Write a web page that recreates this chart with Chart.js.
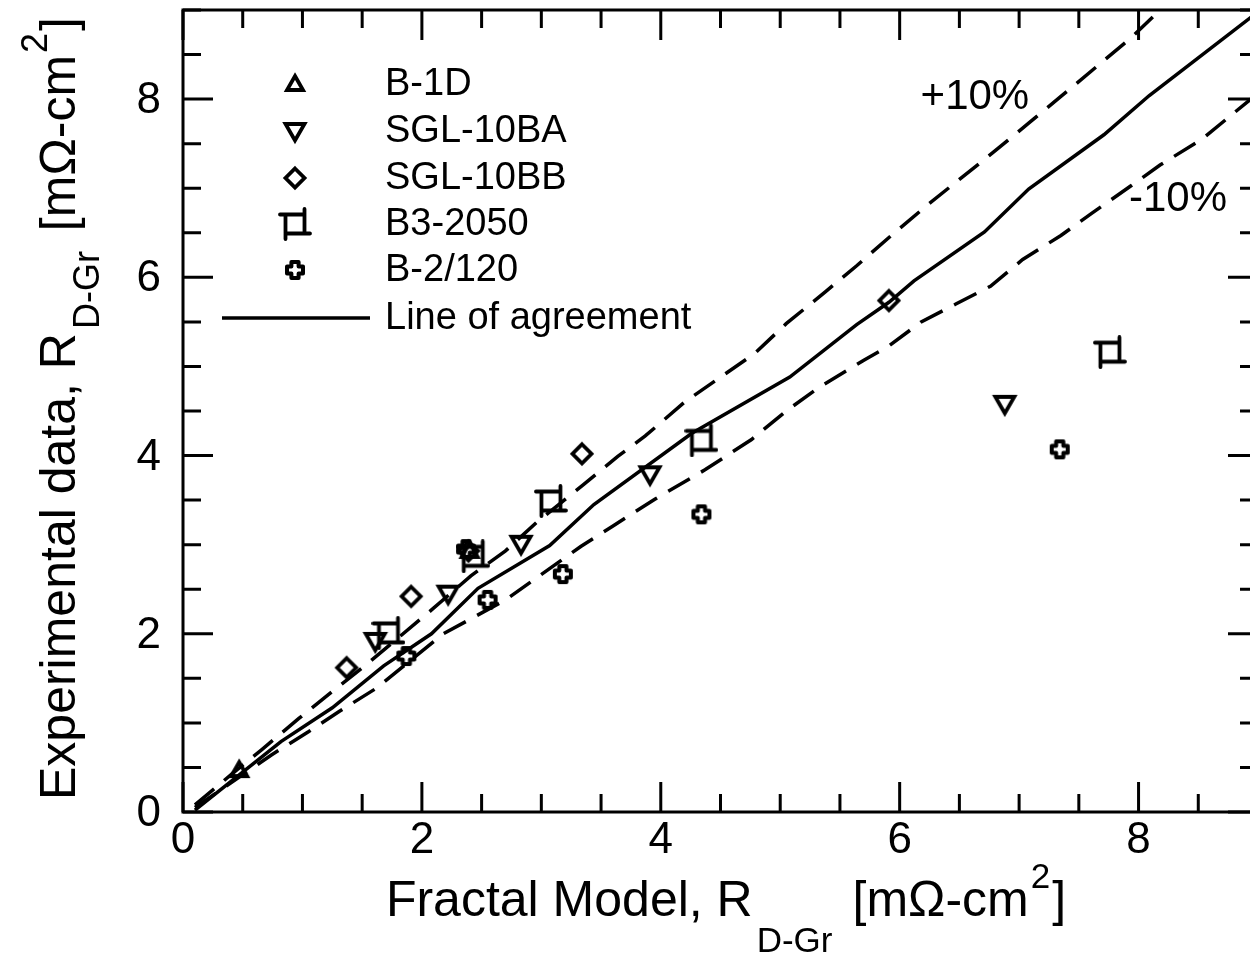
<!DOCTYPE html>
<html>
<head>
<meta charset="utf-8">
<script src="https://cdn.jsdelivr.net/npm/chart.js@4/dist/chart.umd.min.js"></script>
<style>
  html, body { margin: 0; padding: 0; background: #fff; overflow: hidden; }
  #wrap { position: relative; width: 1260px; height: 955px; }
</style>
</head>
<body>
<div id="wrap"><canvas id="chart" width="1260" height="955"></canvas></div>
<script>
// ---- data ----
const xMajorLabels = [0, 2, 4, 6, 8];
const yMajorLabels = [0, 2, 4, 6, 8];

const b1dX  = [0.47, 2.40];
const b1dY  = [0.47, 2.93];
const sglaX = [1.61, 2.22, 2.83, 3.91, 6.88];
const sglaY = [1.92, 2.45, 3.01, 3.79, 4.58];
const sglbX = [1.37, 1.91, 2.39, 3.34, 5.91];
const sglbY = [1.62, 2.42, 2.93, 4.02, 5.74];
const b3X   = [1.72, 2.43, 3.08, 4.34, 7.76];
const b3Y   = [2.01, 2.87, 3.49, 4.17, 5.16];
const b2X   = [1.87, 2.37, 2.55, 3.18, 4.34, 7.34];
const b2Y   = [1.75, 2.95, 2.38, 2.67, 3.34, 4.07];

const agreeX = [0.10, 0.82, 1.25, 1.68, 2.08, 2.47, 3.07, 3.44, 4.26, 5.08, 5.64, 5.91, 6.12, 6.71, 7.08, 7.71, 8.09, 9.00];
const agreeY = [0.02, 0.79, 1.17, 1.64, 2.00, 2.51, 2.99, 3.45, 4.25, 4.88, 5.47, 5.72, 5.96, 6.51, 6.99, 7.60, 8.04, 8.98];
const plusX  = [0.10, 0.43, 0.66, 0.97, 1.23, 1.54, 2.10, 2.41, 2.70, 2.96, 3.35, 3.64, 3.87, 4.20, 4.79, 5.05, 5.38, 5.64, 5.93, 6.24, 6.79, 7.08, 7.35, 7.94, 8.18];
const plusY  = [0.08, 0.45, 0.70, 1.05, 1.33, 1.66, 2.29, 2.65, 2.93, 3.25, 3.67, 3.99, 4.22, 4.60, 5.15, 5.48, 5.84, 6.13, 6.47, 6.82, 7.41, 7.73, 8.03, 8.69, 9.00];
const minusX = [0.10, 0.74, 1.05, 1.31, 1.62, 2.18, 2.70, 3.33, 3.60, 3.95, 4.37, 4.76, 5.05, 5.32, 5.70, 5.91, 6.18, 6.47, 6.76, 7.03, 7.35, 7.61, 7.94, 8.18, 8.53, 8.94];
const minusY = [0.05, 0.64, 0.90, 1.13, 1.39, 2.00, 2.38, 2.98, 3.21, 3.51, 3.84, 4.18, 4.50, 4.76, 5.07, 5.23, 5.50, 5.70, 5.90, 6.20, 6.47, 6.72, 7.03, 7.26, 7.55, 8.00];

const pts = (xs, ys) => xs.map((x, i) => ({ x, y: ys[i] }));

const FONT = 'Arial, "Liberation Sans", sans-serif';

// ---- marker glyphs ----
function marker(kind) {
  const c = document.createElement('canvas');
  c.width = 34; c.height = 34;
  const g = c.getContext('2d');
  g.strokeStyle = '#000';
  g.lineWidth = 3.8;
  g.lineJoin = 'miter';
  g.translate(17, 17);
  g.beginPath();
  if (kind === 'up') {
    g.moveTo(0, -8); g.lineTo(8, 6); g.lineTo(-8, 6); g.closePath();
  } else if (kind === 'down') {
    g.moveTo(-9.5, -7); g.lineTo(9.5, -7); g.lineTo(0, 9.5); g.closePath();
  } else if (kind === 'diamond') {
    g.moveTo(0, -9.5); g.lineTo(9.5, 0); g.lineTo(0, 9.5); g.lineTo(-9.5, 0); g.closePath();
  } else if (kind === 'square') {
    g.moveTo(-15, -9.5); g.lineTo(9.5, -9.5);
    g.moveTo(9.5, -15); g.lineTo(9.5, 9.5);
    g.moveTo(15, 9.5); g.lineTo(-9.5, 9.5);
    g.moveTo(-9.5, 15); g.lineTo(-9.5, -9.5);
    g.lineCap = 'round';
  } else if (kind === 'plus') {
    const a = 3.6, r = 8;
    g.moveTo(-a, -r); g.lineTo(a, -r); g.lineTo(a, -a); g.lineTo(r, -a); g.lineTo(r, a);
    g.lineTo(a, a); g.lineTo(a, r); g.lineTo(-a, r); g.lineTo(-a, a); g.lineTo(-r, a);
    g.lineTo(-r, -a); g.lineTo(-a, -a); g.closePath();
    g.lineWidth = 4; g.lineJoin = 'round';
  }
  g.stroke();
  return c;
}

const mk = {
  up: marker('up'), down: marker('down'), diamond: marker('diamond'),
  square: marker('square'), plus: marker('plus')
};

// ---- frame, inward ticks on all four sides, tick labels ----
const framePlugin = {
  id: 'frame',
  afterDraw(chart) {
    const { ctx, chartArea: a, scales: { x, y } } = chart;
    ctx.save();
    ctx.strokeStyle = '#000';
    ctx.lineWidth = 3;
    ctx.strokeRect(a.left, a.top, a.right - a.left, a.bottom - a.top);
    ctx.beginPath();
    for (let v = 0; v <= 9; v += 0.5) {
      const len = v % 2 === 0 ? 30 : 18;
      const px = x.getPixelForValue(v);
      ctx.moveTo(px, a.bottom); ctx.lineTo(px, a.bottom - len);
      ctx.moveTo(px, a.top); ctx.lineTo(px, a.top + len);
      const py = y.getPixelForValue(v);
      ctx.moveTo(a.left, py); ctx.lineTo(a.left + len, py);
      ctx.moveTo(a.right, py); ctx.lineTo(a.right - len, py);
    }
    ctx.stroke();

    ctx.fillStyle = '#000';
    ctx.font = '44px ' + FONT;
    ctx.textAlign = 'center';
    ctx.textBaseline = 'alphabetic';
    xMajorLabels.forEach(v => ctx.fillText(String(v), x.getPixelForValue(v), a.bottom + 41));
    ctx.textAlign = 'right';
    ctx.textBaseline = 'middle';
    yMajorLabels.forEach(v => ctx.fillText(String(v), a.left - 22, y.getPixelForValue(v) + 2));
    ctx.restore();
  }
};

// ---- axis titles with sub/superscripts ----
function pieces(ctx, parts, x0, y0) {
  let x = x0;
  parts.forEach(p => {
    ctx.font = p.s + 'px ' + FONT;
    ctx.fillText(p.t, x, y0 + (p.dy || 0));
    x += ctx.measureText(p.t).width + (p.gap || 0);
  });
  return x;
}
function titleParts(main, m, s, subDy, subGap) {
  return [
    { t: main, s: m, gap: 4 },
    { t: 'D-Gr', s: s, dy: subDy, gap: subGap },
    { t: '[m\u03A9-cm', s: m, gap: 2 },
    { t: '2', s: s, dy: -28, gap: 2 },
    { t: ']', s: m }
  ];
}
function partsWidth(ctx, parts) {
  let w = 0;
  parts.forEach(p => { ctx.font = p.s + 'px ' + FONT; w += ctx.measureText(p.t).width + (p.gap || 0); });
  return w;
}

const titlePlugin = {
  id: 'titles',
  afterDraw(chart) {
    const { ctx } = chart;
    ctx.save();
    ctx.fillStyle = '#000';
    ctx.textBaseline = 'alphabetic';
    ctx.textAlign = 'left';
    const xp = titleParts('Fractal Model, R', 50, 35, 36, 20);
    const w = partsWidth(ctx, xp);
    pieces(ctx, xp, 726 - w / 2, 916);

    ctx.translate(75, 800);
    ctx.rotate(-Math.PI / 2);
    pieces(ctx, titleParts('Experimental data, R', 50, 36, 24, 20), 0, 0);
    ctx.restore();
  }
};

// ---- in-plot legend and ±10% labels ----
const legendPlugin = {
  id: 'innerLegend',
  afterDraw(chart) {
    const { ctx, scales: { x, y } } = chart;
    const rows = [84, 131, 178, 224, 270, 318];
    ctx.save();
    ctx.fillStyle = '#000';
    ctx.font = '38px ' + FONT;
    ctx.textBaseline = 'middle';
    ctx.textAlign = 'left';
    const items = chart.data.datasets.filter(d => d.inLegend);
    items.forEach((d, i) => {
      const ry = rows[i];
      if (d.showLine) {
        ctx.strokeStyle = '#000';
        ctx.lineWidth = 3.5;
        ctx.beginPath(); ctx.moveTo(222, ry); ctx.lineTo(370, ry); ctx.stroke();
      } else {
        ctx.drawImage(d.pointStyle, 295 - 17, ry - 17);
      }
      ctx.fillText(d.label, 385, ry + 1);
    });
    ctx.font = '42px ' + FONT;
    ctx.textAlign = 'center';
    ctx.fillText('+10%', x.getPixelForValue(6.63), y.getPixelForValue(8.02));
    ctx.fillText('-10%', x.getPixelForValue(8.33), y.getPixelForValue(6.87));
    ctx.restore();
  }
};

const markerSet = (label, data, style) => ({
  label, data, inLegend: true, showLine: false,
  pointStyle: style, pointRadius: 10, pointHoverRadius: 10
});

new Chart(document.getElementById('chart'), {
  type: 'scatter',
  data: {
    datasets: [
      markerSet('B-1D', pts(b1dX, b1dY), mk.up),
      markerSet('SGL-10BA', pts(sglaX, sglaY), mk.down),
      markerSet('SGL-10BB', pts(sglbX, sglbY), mk.diamond),
      markerSet('B3-2050', pts(b3X, b3Y), mk.square),
      markerSet('B-2/120', pts(b2X, b2Y), mk.plus),
      {
        label: 'Line of agreement', data: pts(agreeX, agreeY), inLegend: true,
        showLine: true, borderColor: '#000', borderWidth: 3.5, pointRadius: 0
      },
      {
        label: '+10%', data: pts(plusX, plusY), showLine: true,
        borderColor: '#000', borderWidth: 3.5, borderDash: [25, 13], pointRadius: 0
      },
      {
        label: '-10%', data: pts(minusX, minusY), showLine: true,
        borderColor: '#000', borderWidth: 3.5, borderDash: [25, 13], pointRadius: 0
      }
    ]
  },
  options: {
    responsive: false,
    animation: false,
    devicePixelRatio: 1,
    layout: { autoPadding: false, padding: { top: 10, right: 2, left: 0, bottom: 0 } },
    plugins: { legend: { display: false }, tooltip: { enabled: false } },
    scales: {
      x: {
        type: 'linear', min: 0, max: 9,
        grid: { display: false, drawTicks: false },
        border: { display: false },
        ticks: { display: false, stepSize: 0.5 },
        afterFit: s => { s.height = 143; }
      },
      y: {
        type: 'linear', min: 0, max: 9,
        grid: { display: false, drawTicks: false },
        border: { display: false },
        ticks: { display: false, stepSize: 0.5 },
        afterFit: s => { s.width = 183; }
      }
    }
  },
  plugins: [framePlugin, titlePlugin, legendPlugin]
});
</script>
</body>
</html>
